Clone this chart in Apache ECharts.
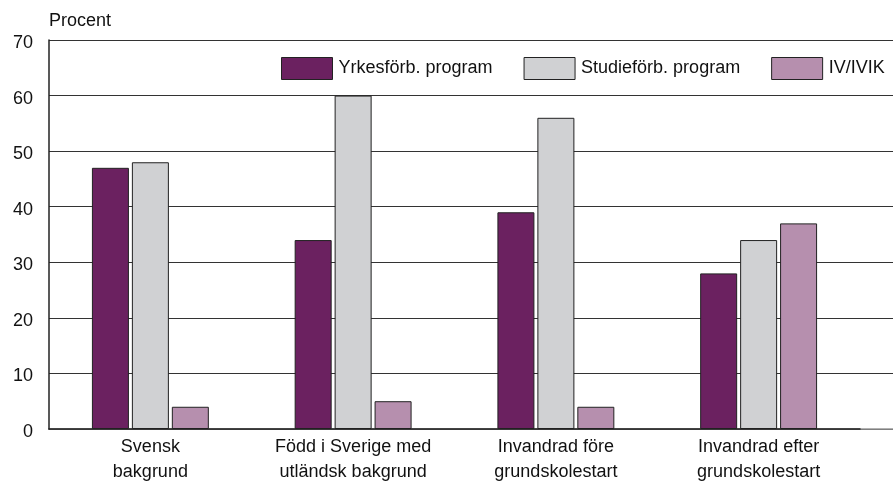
<!DOCTYPE html>
<html>
<head>
<meta charset="utf-8">
<script src="https://cdn.jsdelivr.net/npm/echarts@6/dist/echarts.min.js"></script>
<style>
html,body{margin:0;padding:0;background:#fff;}
#chart{width:893px;height:481px;}
</style>
</head>
<body>
<div id="chart"></div>
<script>
// Andel elever per programtyp efter bakgrund
const categories = ['Svensk\nbakgrund', 'Född i Sverige med\nutländsk bakgrund', 'Invandrad före\ngrundskolestart', 'Invandrad efter\ngrundskolestart'];
const seriesNames = ['Yrkesförb. program', 'Studieförb. program', 'IV/IVIK'];
const yrkes = [47, 34, 39, 28];
const studie = [48, 60, 56, 34];
const ivik = [4, 5, 4, 37];
const colors = ['#6b2160', '#d0d1d3', '#b68fae'];

const font = 'Liberation Sans, Arial, sans-serif';
const chart = echarts.init(document.getElementById('chart'));

const values = [yrkes, studie, ivik];
chart.setOption({
  animation: false,
  textStyle: { fontFamily: font },
  legend: {
    left: 276, top: 52, width: 700,
    itemWidth: 51, itemHeight: 22, itemGap: 31,
    textStyle: { fontSize: 18, color: '#111', padding: [0, 0, 0, 1] },
    data: seriesNames.map((n, i) => ({ name: n, icon: 'rect',
      itemStyle: { color: colors[i], borderColor: '#222', borderWidth: 1 } }))
  },
  grid: [
    { left: 49, right: 33, top: 40, bottom: 52, outerBoundsMode: 'none' },
    { left: 49, right: 0, top: 40, bottom: 52, outerBoundsMode: 'none' }
  ],
  xAxis: [
    {
      type: 'category', gridIndex: 0, data: categories, z: 5,
      axisLine: { lineStyle: { color: '#222', width: 1.5 } },
      axisTick: { show: false },
      axisLabel: { fontSize: 18, color: '#111', lineHeight: 25, margin: 6, interval: 0, fontFamily: font }
    },
    {
      type: 'value', gridIndex: 1, min: 0, max: 1, show: true,
      axisLine: { show: true, lineStyle: { color: '#999', width: 1.5 } },
      axisTick: { show: false }, axisLabel: { show: false }, splitLine: { show: false }
    }
  ],
  yAxis: [
    {
      type: 'value', gridIndex: 0, min: 0, max: 70, interval: 10, z: 5,
      name: 'Procent', nameLocation: 'end', nameGap: 10,
      nameTextStyle: { fontSize: 18, color: '#111', align: 'left', padding: [0, 0, 0, 0] },
      axisLine: { show: true, lineStyle: { color: '#222', width: 1.5 } },
      axisTick: { show: false },
      axisLabel: { fontSize: 18, color: '#111', margin: 16, verticalAlign: 'top', padding: [-6, 0, 0, 0], fontFamily: font },
      splitLine: { show: false }
    },
    {
      type: 'value', gridIndex: 1, min: 0, max: 70, interval: 10,
      axisLine: { show: false }, axisTick: { show: false }, axisLabel: { show: false },
      splitLine: { show: true, lineStyle: { color: '#333', width: 1 } }
    }
  ],
  series: seriesNames.map((n, i) => ({
    name: n, type: 'bar', xAxisIndex: 0, yAxisIndex: 0,
    data: values[i], barWidth: 37, barGap: '8%', z: 3,
    itemStyle: { color: colors[i], borderColor: '#222', borderWidth: 1 }
  }))
});
</script>
</body>
</html>
